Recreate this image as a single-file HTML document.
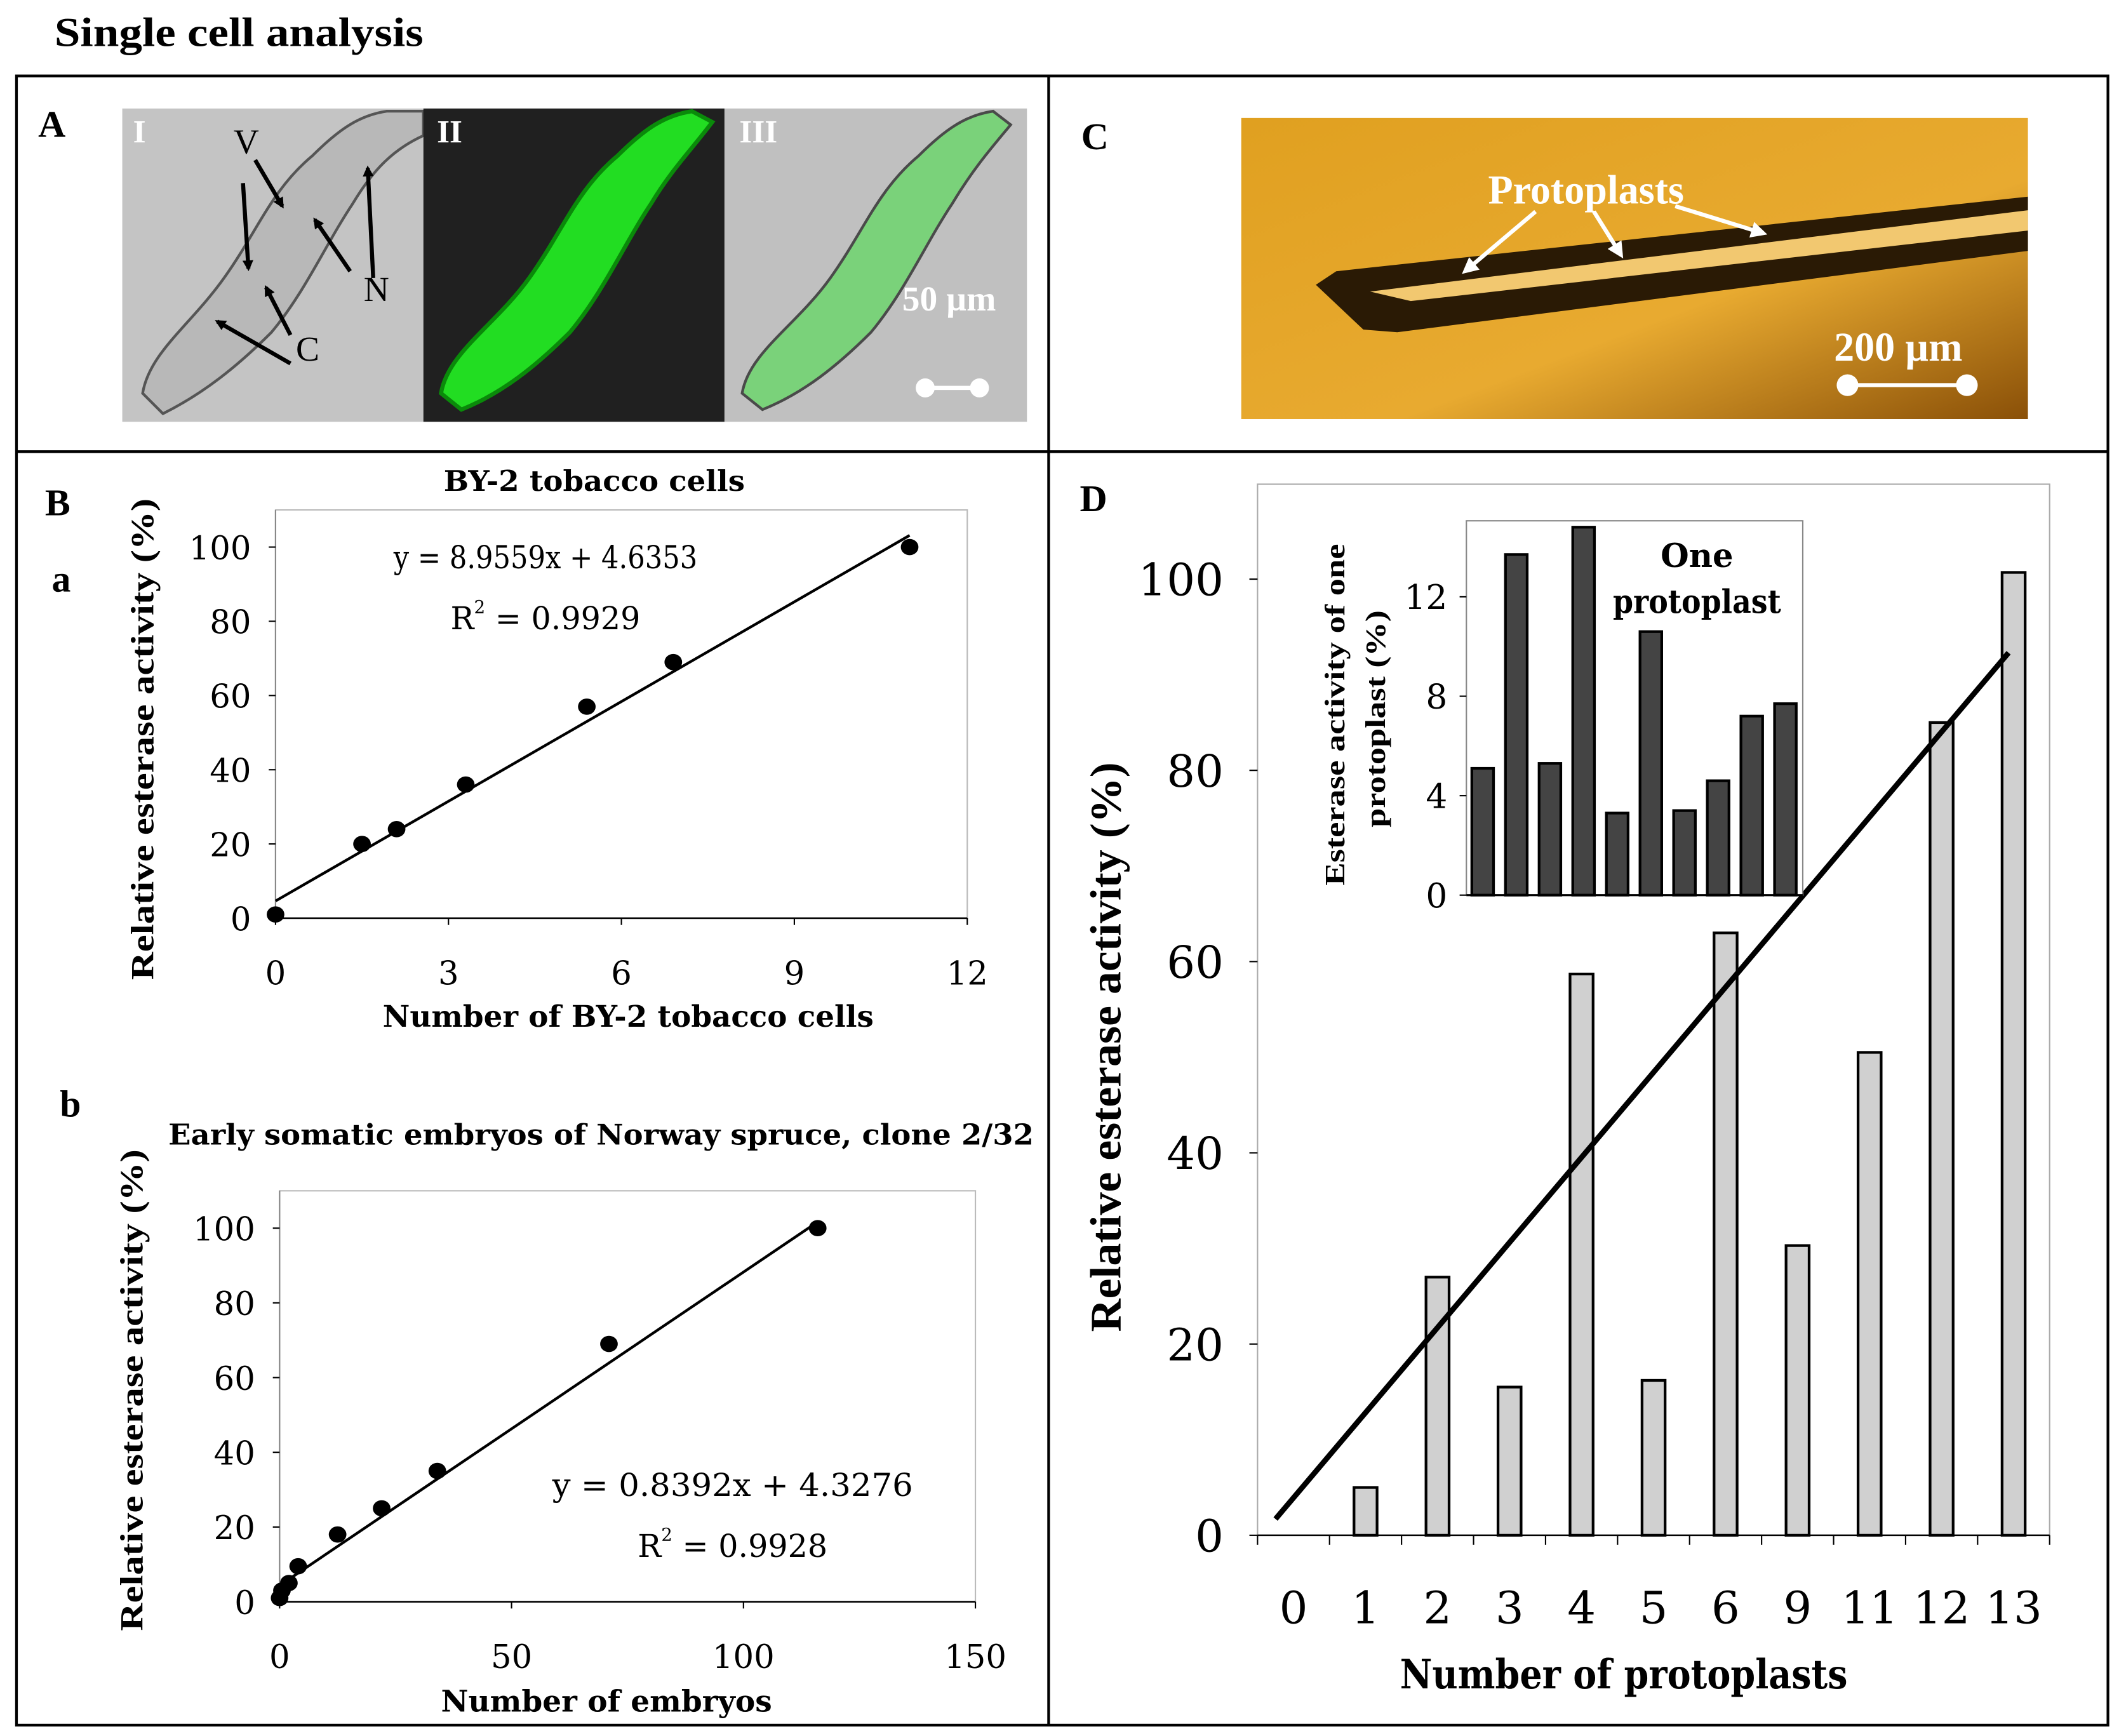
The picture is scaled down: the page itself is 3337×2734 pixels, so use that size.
<!DOCTYPE html>
<html><head><meta charset="utf-8"><style>html,body{margin:0;padding:0;background:#fff}svg{display:block}</style></head>
<body>
<svg id="fig" width="3337" height="2734" viewBox="0 0 1562 1280" xmlns="http://www.w3.org/2000/svg" font-family="'DejaVu Serif', serif">
<defs>
<linearGradient id="og" x1="0" y1="0" x2="1" y2="1"><stop offset="0" stop-color="#e0a020"/><stop offset="0.6" stop-color="#e8aa30"/><stop offset="1" stop-color="#8a5008"/></linearGradient>
<marker id="ab" markerWidth="8" markerHeight="8" refX="6" refY="4" orient="auto" markerUnits="userSpaceOnUse"><path d="M0,0 L8,4 L0,8 Z" fill="#000"/></marker>
<marker id="aw" markerWidth="12" markerHeight="12" refX="9" refY="6" orient="auto" markerUnits="userSpaceOnUse"><path d="M0,0 L12,6 L0,12 Z" fill="#fff"/></marker>
</defs>
<text x="40" y="34" font-family="'Liberation Serif',serif" font-weight="bold" font-size="30" textLength="272" lengthAdjust="spacingAndGlyphs">Single cell analysis</text>
<g stroke="#000" stroke-width="2" fill="none">
<rect x="12" y="56" width="1542" height="1216"/>
<line x1="12" y1="333" x2="1554" y2="333"/>
<line x1="773" y1="56" x2="773" y2="1272"/>
</g>
<g font-family="'Liberation Serif',serif" font-weight="bold">
<text x="28" y="101" font-size="28">A</text>
<text x="797" y="110" font-size="28">C</text>
<text x="33" y="380" font-size="28">B</text>
<text x="38" y="436" font-size="28">a</text>
<text x="44" y="823" font-size="28">b</text>
<text x="796" y="377" font-size="28">D</text>
</g>
<g>
<rect x="90" y="80" width="222" height="231" fill="#c4c4c4"/>
<path d="M105,290 C110,260 140,240 165,205 C190,170 200,140 230,115 C250,95 265,85 285,82 L312,82 L312,100 C290,110 275,125 260,150 C240,180 225,215 200,245 C175,270 150,290 120,305 Z" fill="#b8b8b8" stroke="#555" stroke-width="2"/>
<text x="98" y="105" font-family="'Liberation Serif',serif" font-weight="bold" font-size="24" fill="#fff">I</text>
<g font-family="'Liberation Serif',serif" font-size="26" fill="#000">
<text x="172" y="113">V</text><text x="268" y="222">N</text><text x="218" y="266">C</text></g>
<g stroke="#000" stroke-width="3" fill="none" marker-end="url(#ab)">
<line x1="188" y1="118" x2="208" y2="152"/><line x1="179" y1="135" x2="183" y2="198"/>
<line x1="258" y1="200" x2="232" y2="162"/><line x1="275" y1="205" x2="271" y2="124"/>
<line x1="214" y1="247" x2="196" y2="212"/><line x1="214" y1="268" x2="160" y2="237"/></g>
</g>
<g>
<rect x="312" y="80" width="222" height="231" fill="#202020"/>
<path d="M325,290 C330,260 365,240 390,205 C415,170 425,140 455,115 C475,95 490,85 510,82 L525,90 C510,110 495,125 480,150 C460,180 445,215 420,245 C395,270 370,290 340,302 Z" fill="#22dd22" stroke="#0a8a0a" stroke-width="3"/>
<text x="322" y="105" font-family="'Liberation Serif',serif" font-weight="bold" font-size="24" fill="#fff">II</text>
</g>
<g>
<rect x="534" y="80" width="223" height="231" fill="#c0c0c0"/>
<path d="M547,290 C552,260 587,240 612,205 C637,170 647,140 677,115 C697,95 712,85 732,82 L745,92 C730,110 717,125 702,150 C682,180 667,215 642,245 C617,270 592,290 562,302 Z" fill="#7ad27a" stroke="#4a4a4a" stroke-width="2"/>
<text x="545" y="105" font-family="'Liberation Serif',serif" font-weight="bold" font-size="24" fill="#fff">III</text>
<text x="665" y="229" font-family="'Liberation Serif',serif" font-weight="bold" font-size="26" fill="#fff">50 µm</text>
<line x1="682" y1="286" x2="722" y2="286" stroke="#fff" stroke-width="3"/><circle cx="682" cy="286" r="7" fill="#fff"/><circle cx="722" cy="286" r="7" fill="#fff"/>
</g>
<g>
<rect x="915" y="87" width="580" height="222" fill="url(#og)"/>
<path d="M970,210 L985,200 L1495,145 L1495,185 L1030,245 L1005,243 Z" fill="#2a1a05"/>
<path d="M1010,215 L1495,155 L1495,170 L1040,222 Z" fill="#f2c870"/>
<text x="1097" y="150" font-family="'Liberation Serif',serif" font-weight="bold" font-size="30" fill="#fff">Protoplasts</text>
<g stroke="#fff" stroke-width="3" marker-end="url(#aw)"><line x1="1132" y1="156" x2="1080" y2="200"/><line x1="1175" y1="156" x2="1195" y2="188"/><line x1="1235" y1="152" x2="1300" y2="172"/></g>
<text x="1352" y="266" font-family="'Liberation Serif',serif" font-weight="bold" font-size="30" fill="#fff">200 µm</text>
<line x1="1362" y1="284" x2="1450" y2="284" stroke="#fff" stroke-width="3"/><circle cx="1362" cy="284" r="8" fill="#fff"/><circle cx="1450" cy="284" r="8" fill="#fff"/>
</g>
<g id="charts"></g>
</svg>
<script>
// ---- Chart a data ----
const aX = [0, 1.5, 2.1, 3.3, 5.4, 6.9, 11];
const aY = [1, 20, 24, 36, 57, 69, 100];
const aSlope = [8.9559];
const aIntercept = [4.6353];
const aXTicks = [0, 3, 6, 9, 12];
const aYTicks = [0, 20, 40, 60, 80, 100];
// ---- Chart b data ----
const bX = [0, 0.5, 2, 4, 12.5, 22, 34, 71, 116];
const bY = [1, 3, 5, 9.5, 18, 25, 35, 69, 100];
const bSlope = [0.8392];
const bIntercept = [4.3276];
const bXTicks = [0, 50, 100, 150];
const bYTicks = [0, 20, 40, 60, 80, 100];
// ---- Chart D data ----
const dCats = ['0','1','2','3','4','5','6','9','11','12','13'];
const dVals = [0, 5, 27, 15.5, 58.7, 16.2, 63, 30.3, 50.5, 85, 100.7];
const dTrendIdx = [-0.25, 9.93];
const dTrendVal = [1.7, 92.3];
const dYTicks = [0, 20, 40, 60, 80, 100];
// ---- Inset data ----
const iVals = [5.1, 13.7, 5.3, 14.8, 3.3, 10.6, 3.4, 4.6, 7.2, 7.7];
const iYTicks = [0, 4, 8, 12];

const NS = 'http://www.w3.org/2000/svg';
const root = document.getElementById('charts');
function mk(tag, attrs, parent, txt){
  const e = document.createElementNS(NS, tag);
  for (const k in attrs) e.setAttribute(k, attrs[k]);
  if (txt !== undefined) e.textContent = txt;
  (parent || root).appendChild(e);
  return e;
}

function scatter(cfg){
  const g = mk('g', {});
  
  
  const sx = v => cfg.x0 + (v - cfg.xmin) / (cfg.xmax - cfg.xmin) * (cfg.x1 - cfg.x0);
  const sy = v => cfg.y0 - v / 110 * (cfg.y0 - cfg.y1);
  const frame = mk('rect', {x: cfg.x0, y: cfg.y1, width: cfg.x1 - cfg.x0, height: cfg.y0 - cfg.y1, fill: 'none', stroke: '#bbb', 'stroke-width': 1}, g);
  
  
  mk('line', {x1: cfg.x0, y1: cfg.y0, x2: cfg.x1, y2: cfg.y0, stroke: '#000', 'stroke-width': 1.2}, g);
  mk('line', {x1: cfg.x0, y1: cfg.y0, x2: cfg.x0, y2: cfg.y1, stroke: '#888', 'stroke-width': 1}, g);
  cfg.yt.forEach(t => {
    mk('line', {x1: cfg.x0 - 5, x2: cfg.x0, y1: sy(t), y2: sy(t), stroke: '#000'}, g);
    const tl = mk('text', {x: cfg.x0 - 18, y: sy(t) + 9, 'text-anchor': 'end', 'font-size': 24}, g, t);
    
    
  });
  cfg.xt.forEach(t => {
    mk('line', {x1: sx(t), x2: sx(t), y1: cfg.y0, y2: cfg.y0 + 5, stroke: '#000'}, g);
    const tl = mk('text', {x: sx(t), y: cfg.y0 + 49, 'text-anchor': 'middle', 'font-size': 24}, g, t);
    
    
  });
  const xmx = Math.max(...cfg.xs);
  const ln = mk('line', {x1: sx(0), y1: sy(cfg.b), x2: sx(xmx), y2: sy(cfg.m * xmx + cfg.b), stroke: '#000', 'stroke-width': 2}, g);
  
  
  cfg.xs.forEach((v, i) => {
    const p = mk('ellipse', {cx: sx(v), cy: sy(cfg.ys[i]), rx: 6.5, ry: 6, fill: '#000'}, g);
    
    
  });
  const tt = mk('text', {x: cfg.titleX, y: cfg.titleY, 'text-anchor': 'middle', 'font-size': 21, 'font-weight': 'bold', textLength: cfg.titleW, lengthAdjust: 'spacingAndGlyphs'}, g, cfg.title);
  
  
  const xa = mk('text', {x: cfg.xtX, y: cfg.xtY, 'text-anchor': 'middle', 'font-size': 22, 'font-weight': 'bold', textLength: cfg.xtW, lengthAdjust: 'spacingAndGlyphs'}, g, cfg.xtitle);
  
  
  const ya = mk('text', {x: 0, y: 0, 'text-anchor': 'middle', 'font-size': 24, 'font-weight': 'bold', 'font-family': "'Liberation Serif',serif", textLength: cfg.ytW, lengthAdjust: 'spacingAndGlyphs', transform: `translate(${cfg.ytX},${cfg.ytY}) rotate(-90)`}, g, 'Relative esterase activity (%)');
  
  
  const eq = mk('text', {x: cfg.eqX, y: cfg.eqY, 'text-anchor': 'middle', 'font-size': 23, textLength: cfg.eqW, lengthAdjust: 'spacingAndGlyphs'}, g, cfg.eq);
  
  
  const r2 = mk('text', {x: cfg.eqX, y: cfg.eqY + 45, 'text-anchor': 'middle', 'font-size': 23}, g);
  
  
  mk('tspan', {}, r2, 'R');
  mk('tspan', {'font-size': 13, dy: -12}, r2, '2');
  mk('tspan', {dy: 12}, r2, ' = ' + cfg.r2);
}

scatter({name: 'chart-by2', x0: 203, x1: 713, y0: 677, y1: 376, xmin: 0, xmax: 12, xs: aX, ys: aY, m: aSlope[0], b: aIntercept[0],
  xt: aXTicks, yt: aYTicks, title: 'BY-2 tobacco cells', titleX: 438, titleY: 362, titleW: 222,
  xtitle: 'Number of BY-2 tobacco cells', xtX: 463, xtY: 757, xtW: 362, ytX: 113, ytY: 545, ytW: 355,
  eq: 'y = 8.9559x + 4.6353', eqX: 402, eqY: 419, eqW: 224, r2: '0.9929'});
scatter({name: 'chart-spruce', x0: 206, x1: 719, y0: 1181, y1: 878, xmin: 0, xmax: 150, xs: bX, ys: bY, m: bSlope[0], b: bIntercept[0],
  xt: bXTicks, yt: bYTicks, title: 'Early somatic embryos of Norway spruce, clone 2/32', titleX: 443, titleY: 844, titleW: 638,
  xtitle: 'Number of embryos', xtX: 447, xtY: 1262, xtW: 244, ytX: 105, ytY: 1025, ytW: 355,
  eq: 'y = 0.8392x + 4.3276', eqX: 540, eqY: 1103, eqW: 266, r2: '0.9928'});

(function(){
  const g = mk('g', {});
  
  
  const X0 = 927, X1 = 1511, Y0 = 1132, YT = 357;
  const bw = (X1 - X0) / dCats.length;
  const sx = i => X0 + bw * (i + 0.5);
  const sy = v => Y0 - v * 7.05;
  mk('rect', {x: X0, y: YT, width: X1 - X0, height: Y0 - YT, fill: 'none', stroke: '#aaa'}, g);
  mk('line', {x1: X0, y1: Y0, x2: X1, y2: Y0, stroke: '#000', 'stroke-width': 1.2}, g);
  for (let i = 0; i <= dCats.length; i++) mk('line', {x1: X0 + bw * i, x2: X0 + bw * i, y1: Y0, y2: Y0 + 7, stroke: '#000'}, g);
  dYTicks.forEach(t => {
    mk('line', {x1: X0 - 6, x2: X0, y1: sy(t), y2: sy(t), stroke: '#000'}, g);
    const tl = mk('text', {x: X0 - 25, y: sy(t) + 12, 'text-anchor': 'end', 'font-size': 33}, g, t);
    
    
  });
  dCats.forEach((c, i) => {
    const tl = mk('text', {x: sx(i), y: Y0 + 65, 'text-anchor': 'middle', 'font-size': 33}, g, c);
    
    
    if (dVals[i] > 0) {
      const r = mk('rect', {x: sx(i) - 8.5, y: sy(dVals[i]), width: 17, height: dVals[i] * 7.05, fill: '#d0d0d0', stroke: '#000', 'stroke-width': 2}, g);
      
      
    }
  });
  const tl = mk('line', {x1: sx(dTrendIdx[0]), y1: sy(dTrendVal[0]), x2: sx(dTrendIdx[1]), y2: sy(dTrendVal[1]), stroke: '#000', 'stroke-width': 4}, g);
  
  
  const xa = mk('text', {x: 1197, y: 1245, 'text-anchor': 'middle', 'font-size': 30, 'font-weight': 'bold', textLength: 330, lengthAdjust: 'spacingAndGlyphs'}, g, 'Number of protoplasts');
  
  
  const ya = mk('text', {x: 0, y: 0, 'text-anchor': 'middle', 'font-size': 32, 'font-weight': 'bold', 'font-family': "'Liberation Serif',serif", textLength: 420, lengthAdjust: 'spacingAndGlyphs', transform: 'translate(826,772) rotate(-90)'}, g, 'Relative esterase activity (%)');
  
  

  const ig = mk('g', {}, g);
  
  
  const IX0 = 1081, IX1 = 1329, IY0 = 660, IYT = 384;
  const ibw = (IX1 - IX0) / iVals.length;
  const isy = v => IY0 - v * 18.33;
  mk('rect', {x: IX0, y: IYT, width: IX1 - IX0, height: IY0 - IYT, fill: '#fff', stroke: '#888'}, ig);
  mk('line', {x1: IX0, y1: IY0, x2: IX1, y2: IY0, stroke: '#000', 'stroke-width': 1.5}, ig);
  iYTicks.forEach(t => {
    mk('line', {x1: IX0 - 5, x2: IX0, y1: isy(t), y2: isy(t), stroke: '#000'}, ig);
    const l = mk('text', {x: IX0 - 14, y: isy(t) + 9, 'text-anchor': 'end', 'font-size': 25}, ig, t);
    
    
  });
  iVals.forEach((v, i) => {
    const r = mk('rect', {x: IX0 + ibw * i + 4, y: isy(v), width: 16, height: v * 18.33, fill: '#444', stroke: '#000', 'stroke-width': 2}, ig);
    
    
  });
  const t1 = mk('text', {x: 1251, y: 418, 'text-anchor': 'middle', 'font-size': 24, 'font-weight': 'bold'}, ig, 'One');
  
  
  mk('text', {x: 1251, y: 452, 'text-anchor': 'middle', 'font-size': 24, 'font-weight': 'bold', textLength: 124, lengthAdjust: 'spacingAndGlyphs'}, ig, 'protoplast');
  const iy = mk('text', {'text-anchor': 'middle', 'font-size': 21, 'font-weight': 'bold', 'font-family': "'Liberation Serif',serif", textLength: 252, lengthAdjust: 'spacingAndGlyphs', transform: 'translate(991,527) rotate(-90)'}, ig, 'Esterase activity of one');
  
  
  mk('text', {'text-anchor': 'middle', 'font-size': 21, 'font-weight': 'bold', 'font-family': "'Liberation Serif',serif", textLength: 160, lengthAdjust: 'spacingAndGlyphs', transform: 'translate(1021,530) rotate(-90)'}, ig, 'protoplast (%)');
})();
</script>
</body></html>
